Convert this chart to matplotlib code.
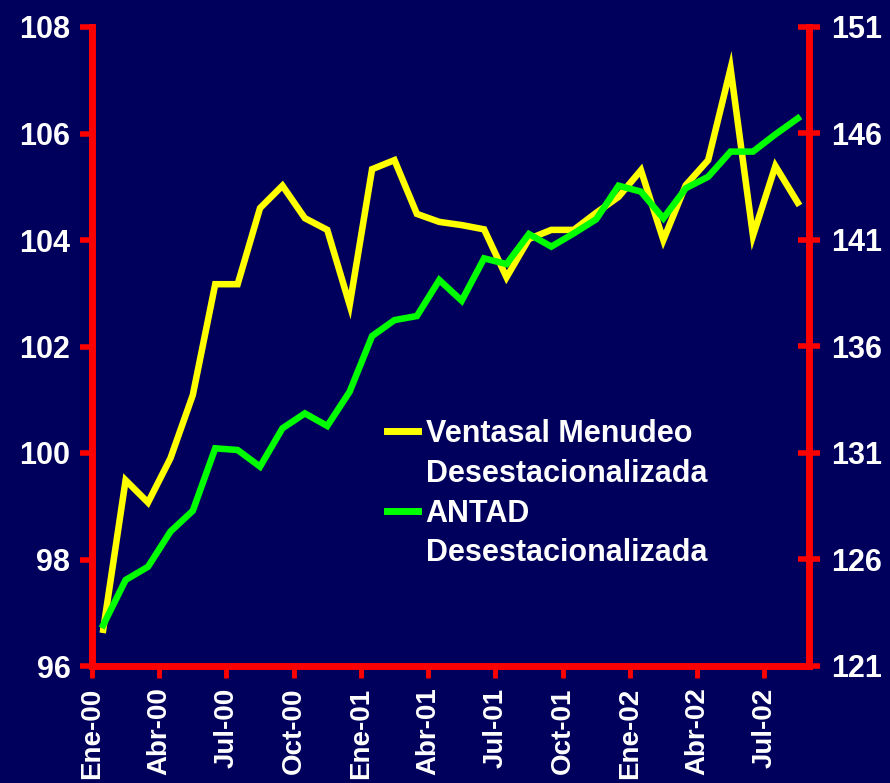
import numpy as np
import matplotlib
matplotlib.use('Agg')
import matplotlib.pyplot as plt
from matplotlib.lines import Line2D

# valores (mensual, Ene-00 a Ago-02)
ventas = [96.68, 99.49, 99.07, 99.90, 101.09, 103.17, 103.17, 104.60, 105.02, 104.41,
          104.19, 102.78, 105.33, 105.50, 104.49, 104.34, 104.28, 104.20, 103.30, 104.02,
          104.19, 104.19, 104.51, 104.81, 105.31, 104.00, 105.03, 105.50, 107.22, 104.08,
          105.39, 104.70]
antad = [122.92, 125.04, 125.66, 127.31, 128.29, 131.22, 131.14, 130.36, 132.16, 132.86,
         132.27, 133.88, 136.49, 137.24, 137.43, 139.12, 138.15, 140.14, 139.87, 141.28,
         140.69, 141.31, 141.97, 143.55, 143.27, 142.02, 143.43, 143.97, 145.15, 145.15,
         145.96, 146.71]
meses = ['Ene-00', 'Abr-00', 'Jul-00', 'Oct-00', 'Ene-01', 'Abr-01', 'Jul-01',
         'Oct-01', 'Ene-02', 'Abr-02', 'Jul-02']
izq_ticks = [96, 98, 100, 102, 104, 106, 108]
der_ticks = [121, 126, 131, 136, 141, 146, 151]
etiquetas = ['Ventasal Menudeo', 'Desestacionalizada', 'ANTAD', 'Desestacionalizada']

plt.rcParams['font.family'] = ['Liberation Sans', 'DejaVu Sans']
plt.rcParams['font.weight'] = 'bold'

fondo = '#00005C'
rojo = '#FF0000'
fs = 22

fig = plt.figure(figsize=(8.9, 7.83), dpi=100)
fig.patch.set_facecolor(fondo)
ax = fig.add_axes([92/890, 117/783, 717/890, 639/783])
ax.set_facecolor(fondo)
ax2 = ax.twinx()

x = np.arange(len(ventas))
ax.plot(x, ventas, color='#FFFF00', lw=4.7, solid_joinstyle='miter')
ax2.plot(x, antad, color='#00FF00', lw=4.7, solid_joinstyle='miter')

ax.set_xlim(-0.5, len(ventas) - 0.5)
ax.set_ylim(96, 108)
ax2.set_ylim(121, 151)

# etiquetas de meses un poco mas chicas, como en la original
ax.set_xticks(np.arange(len(meses)) * 3 - 0.5)
ax.set_xticklabels(meses, rotation=90, fontsize=20, fontweight='bold', color='white')
ax.set_yticks(izq_ticks)
ax.set_yticklabels([str(v) for v in izq_ticks], fontsize=fs, fontweight='bold', color='white')
ax2.set_yticks(der_ticks)
ax2.set_yticklabels([str(v) for v in der_ticks], fontsize=fs, fontweight='bold', color='white')

ax.tick_params(axis='x', direction='out', length=8.5, width=3.5, color=rojo, pad=7)
ax.tick_params(axis='y', direction='out', length=8.5, width=4, color=rojo, pad=7)
ax2.tick_params(axis='y', direction='inout', length=16, width=4, color=rojo, pad=8)

for s in ['top', 'right']:
    ax.spines[s].set_visible(False)
for s in ['top', 'left', 'bottom']:
    ax2.spines[s].set_visible(False)
ax.spines['left'].set_color(rojo)
ax.spines['bottom'].set_color(rojo)
ax2.spines['right'].set_color(rojo)
for sp in [ax.spines['left'], ax.spines['bottom'], ax2.spines['right']]:
    sp.set_linewidth(5)

handles = [Line2D([], [], color='#FFFF00', lw=5),
           Line2D([], [], color='none'),
           Line2D([], [], color='#00FF00', lw=5),
           Line2D([], [], color='none')]
leg = fig.legend(handles, etiquetas, loc='upper left', bbox_to_anchor=(387/890, 1 - 419/783),
                 frameon=False, borderpad=0, borderaxespad=0, handlelength=1.0,
                 handletextpad=0.26, labelspacing=0.32,
                 prop={'size': fs, 'weight': 'bold', 'family': 'Liberation Sans'})
for t in leg.get_texts():
    t.set_color('white')

fig.savefig('out.png', dpi=100, facecolor=fondo)
